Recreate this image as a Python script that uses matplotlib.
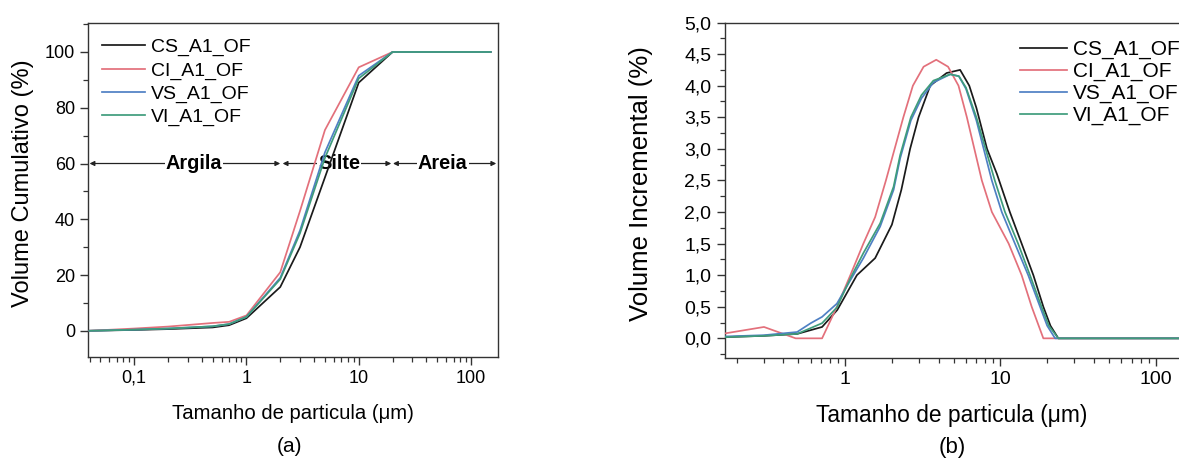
import matplotlib
matplotlib.use("Agg")
import matplotlib.pyplot as plt
from matplotlib.ticker import LogLocator, MultipleLocator, NullFormatter

plt.rcParams['font.family'] = ['Liberation Sans', 'DejaVu Sans']

# ---------------- data ----------------
series_names = ["CS_A1_OF", "CI_A1_OF", "VS_A1_OF", "VI_A1_OF"]
series_colors = ["#1a1a1a", "#e3707b", "#4f80c4", "#3f9c7c"]

# (a) cumulative volume
cum_x = [0.04, 0.1, 0.2, 0.5, 0.7, 1, 2, 3, 5, 10, 20, 150]
cum_cs = [0, 0.3, 0.6, 1.2, 2.0, 4.5, 15.7, 30, 55, 89, 100, 100]
cum_ci = [0, 0.8, 1.5, 2.8, 3.2, 5.5, 21, 43, 72, 94.5, 100, 100]
cum_vs = [0, 0.4, 0.8, 1.6, 2.4, 5.0, 19, 36, 64, 91.5, 100, 100]
cum_vi = [0, 0.4, 0.8, 1.6, 2.4, 5.0, 18.5, 35, 62, 90.5, 100, 100]

# size classes (a)
class_names = ["Argila", "Silte", "Areia"]
class_bounds = [(0.04, 2.0), (2.1, 19.5), (20.2, 168)]
class_label_x = [0.34, 6.7, 56]
class_y = 60

# (b) incremental volume
inc_cs_x = [0.17, 0.3, 0.49, 0.71, 0.89, 1.19, 1.56, 2.0, 2.3, 2.62, 2.97, 3.53,
            4.5, 5.5, 6.3, 7.0, 8.2, 9.5, 11.5, 13.7, 16.3, 18.9, 21.0, 23.6, 200]
inc_cs_y = [0.02, 0.04, 0.07, 0.18, 0.45, 1.0, 1.27, 1.8, 2.35, 3.0, 3.5, 4.0,
            4.2, 4.25, 4.0, 3.65, 3.0, 2.6, 2.0, 1.5, 1.0, 0.5, 0.2, 0.0, 0.0]
inc_ci_x = [0.17, 0.3, 0.48, 0.71, 0.885, 1.08, 1.31, 1.56, 1.83, 2.37, 2.73,
            3.2, 3.86, 4.6, 5.37, 6.08, 7.59, 8.81, 11.3, 13.7, 15.9, 18.9, 200]
inc_ci_y = [0.08, 0.18, 0.0, 0.0, 0.5, 1.0, 1.5, 1.92, 2.5, 3.5, 4.0,
            4.3, 4.41, 4.3, 4.0, 3.5, 2.5, 2.0, 1.5, 1.0, 0.5, 0.0, 0.0]
inc_vs_x = [0.17, 0.3, 0.49, 0.6, 0.71, 0.885, 1.08, 1.31, 1.68, 2.05, 2.26, 2.65,
            3.1, 3.7, 4.75, 5.4, 6.0, 7.0, 8.8, 10.2, 12.4, 15.1, 18.0, 20.0, 22.5, 200]
inc_vs_y = [0.03, 0.05, 0.1, 0.24, 0.34, 0.55, 0.92, 1.27, 1.77, 2.35, 2.85, 3.45,
            3.8, 4.05, 4.18, 4.15, 3.95, 3.45, 2.5, 2.0, 1.5, 1.0, 0.5, 0.2, 0.0, 0.0]
inc_vi_x = [0.17, 0.3, 0.49, 0.71, 0.885, 1.08, 1.31, 1.68, 2.05, 2.26, 2.65,
            3.1, 3.7, 4.75, 5.4, 6.0, 7.0, 9.2, 10.7, 13.0, 15.5, 18.4, 20.5, 23.6, 200]
inc_vi_y = [0.02, 0.04, 0.07, 0.24, 0.49, 0.95, 1.35, 1.82, 2.4, 2.9, 3.5,
            3.85, 4.08, 4.18, 4.15, 3.97, 3.5, 2.5, 2.0, 1.5, 1.0, 0.5, 0.2, 0.0, 0.0]

# ---------------- figure ----------------
W, H = 1179, 466
fig = plt.figure(figsize=(W / 100, H / 100), dpi=100)

def frac_axes(l, t, r, b):
    return [l / W, 1 - b / H, (r - l) / W, (b - t) / H]

axA = fig.add_axes(frac_axes(88.3, 23, 497.7, 356.7))
axB = fig.add_axes(frac_axes(724.5, 22.5, 1202.4, 358.3))

spine_c = "#333333"
for ax, tsize in ((axA, 13), (axB, 14)):
    for s in ax.spines.values():
        s.set_color(spine_c)
        s.set_linewidth(1.0)
    ax.set_xscale("log")
    ax.tick_params(which="major", direction="out", length=6, width=1.0,
                   color=spine_c, labelsize=tsize, pad=3.5)
    ax.tick_params(which="minor", direction="out", length=3.5, width=0.9,
                   color=spine_c)
    ax.tick_params(top=False, right=False, which="both")
    ax.xaxis.set_minor_locator(LogLocator(base=10, subs=range(2, 10), numticks=20))
    ax.xaxis.set_minor_formatter(NullFormatter())

# ---- panel (a) ----
cum_series = [cum_cs, cum_ci, cum_vs, cum_vi]
for name, col, ys in zip(series_names, series_colors, cum_series):
    axA.plot(cum_x, ys, color=col, lw=1.25, label=name, zorder=3)

axA.set_xlim(0.039, 173)
axA.set_ylim(-9.3, 110.4)
axA.set_xticks([0.1, 1, 10, 100], ["0,1", "1", "10", "100"])
axA.set_yticks([0, 20, 40, 60, 80, 100])
axA.yaxis.set_minor_locator(MultipleLocator(10))

for name, (x0, x1), xl in zip(class_names, class_bounds, class_label_x):
    axA.annotate("", xy=(x1, class_y), xytext=(x0, class_y),
                 arrowprops=dict(arrowstyle="<|-|>", lw=0.9, color="#222222",
                                 mutation_scale=7, shrinkA=0, shrinkB=0),
                 zorder=1)
    axA.text(xl, class_y, name, fontsize=14.3, fontweight="bold", ha="center",
             va="center", zorder=2,
             bbox=dict(boxstyle="square,pad=0.05", fc="white", ec="none"))

axA.legend(loc="upper left", bbox_to_anchor=(0.033, 0.9536), frameon=False,
           fontsize=14, handlelength=2.2, handletextpad=0.31,
           labelspacing=0.28, borderpad=0, borderaxespad=0)

axA.set_xlabel("Tamanho de particula (\u03bcm)", fontsize=14.6, va="center")
axA.xaxis.set_label_coords(0.5, -0.169)
axA.set_ylabel("Volume Cumulativo (%)", fontsize=17, va="center")
axA.yaxis.set_label_coords(-0.1595, 0.52)
fig.text(290 / W, 1 - 447 / H, "(a)", fontsize=15, ha="center", va="center")

# ---- panel (b) ----
inc_x = [inc_cs_x, inc_ci_x, inc_vs_x, inc_vi_x]
inc_y = [inc_cs_y, inc_ci_y, inc_vs_y, inc_vi_y]
for name, col, xs, ys in zip(series_names, series_colors, inc_x, inc_y):
    axB.plot(xs, ys, color=col, lw=1.25, label=name, zorder=3)

axB.set_xlim(0.167, 200)
axB.set_ylim(-0.316, 5.0)
axB.set_xticks([1, 10, 100], ["1", "10", "100"])
b_yticks = [0.0, 0.5, 1.0, 1.5, 2.0, 2.5, 3.0, 3.5, 4.0, 4.5, 5.0]
axB.set_yticks(b_yticks, [f"{v:.1f}".replace(".", ",") for v in b_yticks])
axB.yaxis.set_minor_locator(MultipleLocator(0.25))

axB.legend(loc="upper left", bbox_to_anchor=(0.618, 0.948), frameon=False,
           fontsize=15, handlelength=2.26, handletextpad=0.29,
           labelspacing=0.13, borderpad=0, borderaxespad=0)

axB.set_xlabel("Tamanho de particula (\u03bcm)", fontsize=16.4, va="center")
axB.xaxis.set_label_coords((952 - 724.5) / 477.9, -0.169)
axB.set_ylabel("Volume Incremental (%)", fontsize=18.5, va="center")
axB.yaxis.set_label_coords((641 - 724.5) / 477.9, 0.52)
fig.text(952 / W, 1 - 447 / H, "(b)", fontsize=16, ha="center", va="center")

fig.savefig("out.png", dpi=100, facecolor="white")
